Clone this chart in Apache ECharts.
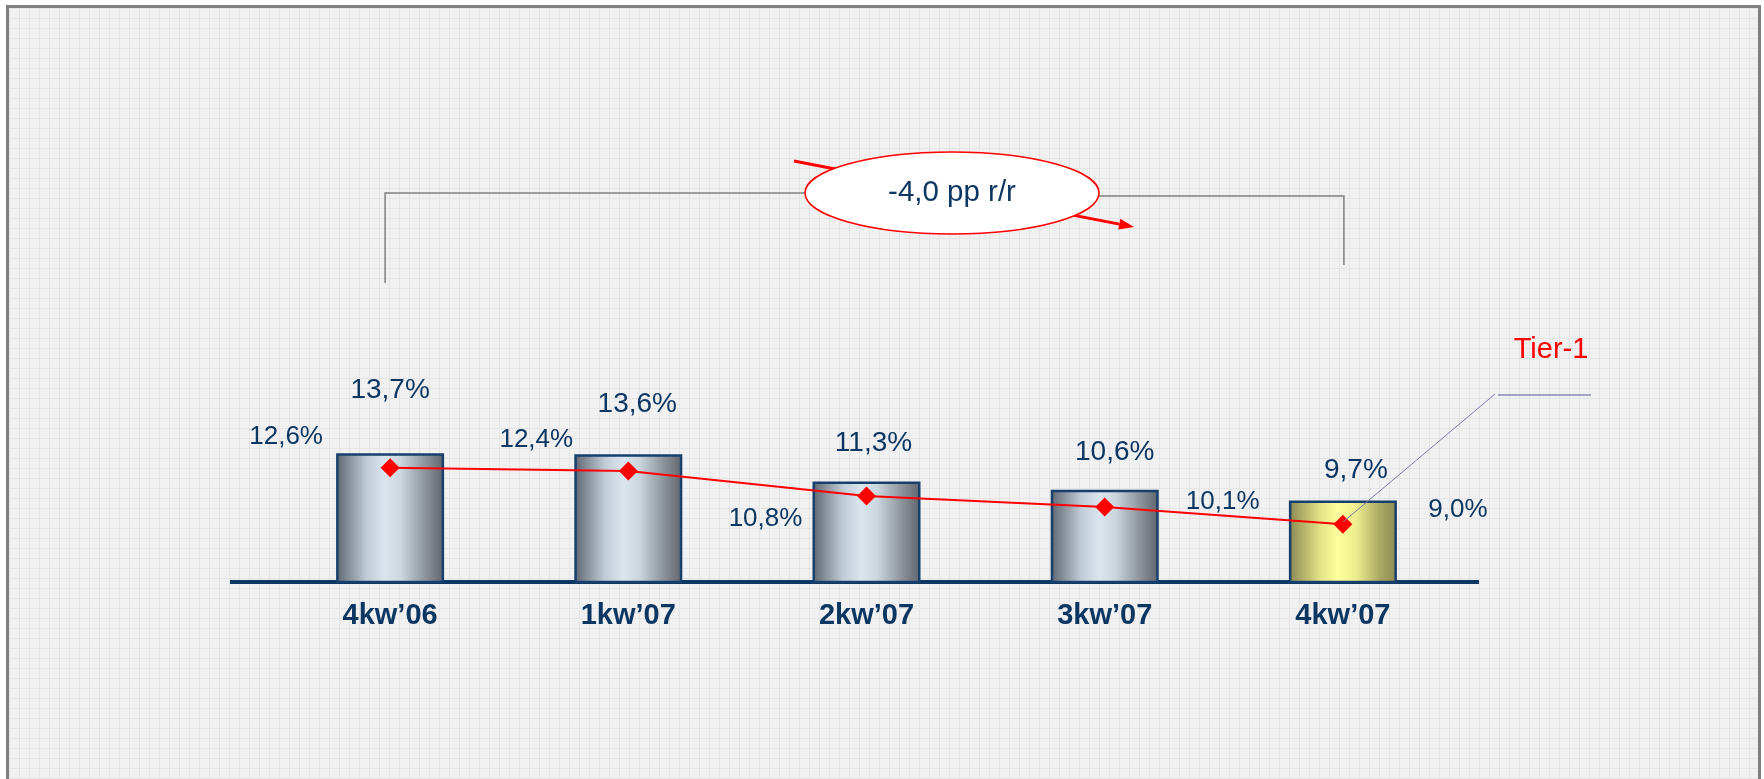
<!DOCTYPE html>
<html>
<head>
<meta charset="utf-8">
<title>Tier-1</title>
<script src="https://cdn.jsdelivr.net/npm/echarts@6/dist/echarts.min.js"></script>
<style>
    html, body {
        margin: 0;
        padding: 0;
        background: #ffffff;
    }

    /* slide-like frame with a faint squared paper pattern */
    #frame {
        position: absolute;
        left: 6px;
        top: 5px;
        width: 1755px;
        height: 800px;
        box-sizing: border-box;
        border: 3px solid #7f7f7f;
        background-color: #f1f1f1;
        background-image: linear-gradient(#e5e5e5 1px, transparent 1px),
                          linear-gradient(90deg, #e5e5e5 1px, transparent 1px);
        background-size: 10px 10px;
    }

    #chart {
        position: absolute;
        left: 0;
        top: 0;
        width: 1764px;
        height: 779px;
    }
</style>
</head>
<body>
<div id="frame"></div>
<div id="chart"></div>
<script>
    // data
    const quarters = ['4kw’06', '1kw’07', '2kw’07', '3kw’07', '4kw’07'];
    const ratioValues = [13.7, 13.6, 11.3, 10.6, 9.7];
    const tier1Values = [12.6, 12.4, 10.8, 10.1, 9.0];
    const changeText = '-4,0 pp r/r';
    const tier1Name = 'Tier-1';

    // label placement (styling only)
    const barLabelDist = [49, 36, 24, 24, 16];
    const barLabelShift = [0, 9, 7, 10, 13];
    const tierLabelOffset = [[-104, -31], [-92, -31], [-101, 23], [118, -5], [115, -14]];

    const navy = '#0d3763';
    const fontFamily = '"Liberation Sans", Arial, sans-serif';

    const pct = v => v.toFixed(1).replace('.', ',') + '%';

    const steelFill = {
        type: 'linear', x: 0, y: 0, x2: 1, y2: 0,
        colorStops: [
            {offset: 0, color: '#5e6570'},
            {offset: 0.28, color: '#bfcbd6'},
            {offset: 0.45, color: '#dbe5ee'},
            {offset: 0.6, color: '#cbd6df'},
            {offset: 0.82, color: '#8e959d'},
            {offset: 1, color: '#60656d'}
        ]
    };
    const yellowFill = {
        type: 'linear', x: 0, y: 0, x2: 1, y2: 0,
        colorStops: [
            {offset: 0, color: '#8a8850'},
            {offset: 0.3, color: '#e6e68a'},
            {offset: 0.45, color: '#fefe9c'},
            {offset: 0.62, color: '#eeee90'},
            {offset: 0.85, color: '#a8a763'},
            {offset: 1, color: '#8c8b52'}
        ]
    };

    const barData = ratioValues.map((v, i) => ({
        value: v,
        itemStyle: {color: i === ratioValues.length - 1 ? yellowFill : steelFill},
        label: {distance: barLabelDist[i], offset: [barLabelShift[i], 0]}
    }));

    const lineData = tier1Values.map((v, i) => ({
        value: v,
        label: {offset: tierLabelOffset[i]}
    }));

    const chart = echarts.init(document.getElementById('chart'));

    chart.setOption({
        backgroundColor: 'transparent',
        animation: false,
        grid: {left: 271, right: 302, top: 300, bottom: 197},
        xAxis: {
            type: 'category',
            data: quarters,
            axisLine: {show: true, lineStyle: {color: navy, width: 4}},
            axisTick: {show: false},
            axisLabel: {
                color: navy,
                fontSize: 29,
                fontWeight: 'bold',
                fontFamily: fontFamily,
                margin: 19
            },
            splitLine: {show: false}
        },
        yAxis: [
            {type: 'value', min: 2.8, max: 26.66, show: false, splitLine: {show: false}},
            {type: 'value', min: 5.3, max: 23.33, show: false, splitLine: {show: false}}
        ],
        series: [
            {
                name: 'ratio',
                type: 'bar',
                yAxisIndex: 0,
                barWidth: 108,
                data: barData,
                itemStyle: {borderColor: '#173f6d', borderWidth: 2.5},
                label: {
                    show: true,
                    position: 'top',
                    color: navy,
                    fontSize: 28,
                    fontFamily: fontFamily,
                    formatter: p => pct(p.value)
                },
                z: 2
            },
            {
                name: tier1Name,
                type: 'line',
                yAxisIndex: 1,
                data: lineData,
                color: '#ff0000',
                lineStyle: {color: '#ff0000', width: 2},
                symbol: 'diamond',
                symbolSize: [19, 19],
                itemStyle: {color: '#ff0000'},
                label: {
                    show: true,
                    position: 'inside',
                    color: navy,
                    fontSize: 26,
                    fontFamily: fontFamily,
                    formatter: p => pct(p.value)
                },
                z: 4
            }
        ]
    });

    // annotations anchored on the drawn marks
    const firstBar = chart.convertToPixel({seriesIndex: 0}, [0, ratioValues[0]]);
    const lastBar = chart.convertToPixel({seriesIndex: 0}, [quarters.length - 1, ratioValues[ratioValues.length - 1]]);
    const lastTier = chart.convertToPixel({seriesIndex: 1}, [quarters.length - 1, tier1Values[tier1Values.length - 1]]);
    const baseY = chart.convertToPixel({yAxisIndex: 0}, 2.8);

    const ell = {cx: 952, cy: 193, rx: 147, ry: 41};

    // red trend arrow passing behind the ellipse
    const arrowFrom = [794, 161];
    const arrowTo = [1134, 227];
    const dx = arrowTo[0] - arrowFrom[0];
    const dy = arrowTo[1] - arrowFrom[1];
    const len = Math.sqrt(dx * dx + dy * dy);
    const ux = dx / len, uy = dy / len;
    const headLen = 15, headHalf = 5.5;
    const bx = arrowTo[0] - ux * headLen, by = arrowTo[1] - uy * headLen;

    const grayLine = {stroke: '#7f7f7f', lineWidth: 1.5};

    chart.setOption({
        graphic: [
            {
                type: 'line', z: 0, silent: true,
                shape: {x1: 230, y1: baseY, x2: 1479, y2: baseY},
                style: {stroke: navy, lineWidth: 4}
            },
            // bracket
            {
                type: 'polyline', z: 1, silent: true,
                shape: {points: [[firstBar[0] - 5, 283], [firstBar[0] - 5, 193], [ell.cx - ell.rx + 5, 193]]},
                style: grayLine
            },
            {
                type: 'polyline', z: 1, silent: true,
                shape: {points: [[ell.cx + ell.rx - 5, 196], [lastBar[0] + 1, 196], [lastBar[0] + 1, 265]]},
                style: grayLine
            },
            {
                type: 'line', z: 2, silent: true,
                shape: {x1: arrowFrom[0], y1: arrowFrom[1], x2: bx, y2: by},
                style: {stroke: '#ff0000', lineWidth: 3}
            },
            {
                type: 'polygon', z: 2, silent: true,
                shape: {
                    points: [
                        arrowTo,
                        [bx - uy * headHalf, by + ux * headHalf],
                        [bx + uy * headHalf, by - ux * headHalf]
                    ]
                },
                style: {fill: '#ff0000'}
            },
            {
                type: 'ellipse', z: 3, silent: true,
                shape: ell,
                style: {fill: '#ffffff', stroke: '#ff0000', lineWidth: 1.5}
            },
            {
                type: 'text', z: 4, silent: true,
                x: ell.cx, y: ell.cy,
                style: {
                    text: changeText,
                    fill: navy,
                    font: '29.5px ' + fontFamily,
                    align: 'center',
                    verticalAlign: 'middle',
                    textAlign: 'center',
                    textVerticalAlign: 'middle'
                }
            },
            // Tier-1 callout
            {
                type: 'line', z: 10, silent: true,
                shape: {x1: lastTier[0], y1: lastTier[1] - 2, x2: 1495, y2: 394},
                style: {stroke: '#7b7bab', lineWidth: 1}
            },
            {
                type: 'line', z: 10, silent: true,
                shape: {x1: 1498, y1: 395, x2: 1591, y2: 395},
                style: {stroke: '#a2a2c4', lineWidth: 2}
            },
            {
                type: 'text', z: 10, silent: true,
                x: 1551, y: 350,
                style: {
                    text: tier1Name,
                    fill: '#ff0000',
                    font: '29px ' + fontFamily,
                    align: 'center',
                    verticalAlign: 'middle',
                    textAlign: 'center',
                    textVerticalAlign: 'middle'
                }
            }
        ]
    });
</script>
</body>
</html>
